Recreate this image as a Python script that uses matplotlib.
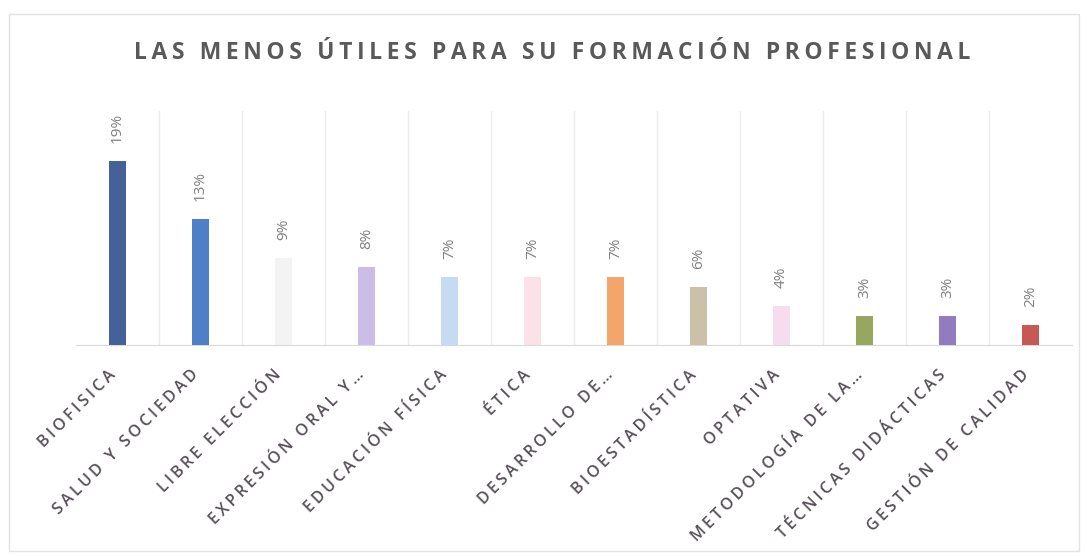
import matplotlib.pyplot as plt
from matplotlib.patches import Rectangle
from matplotlib.transforms import ScaledTranslation

# Data
materias = ['BIOFISICA', 'SALUD Y SOCIEDAD', 'LIBRE ELECCIÓN', 'EXPRESIÓN ORAL Y…',
            'EDUCACIÓN FÍSICA', 'ÉTICA', 'DESARROLLO DE…', 'BIOESTADÍSTICA',
            'OPTATIVA', 'METODOLOGÍA DE LA…', 'TÉCNICAS DIDÁCTICAS', 'GESTIÓN DE CALIDAD']
porcentajes = [19, 13, 9, 8, 7, 7, 7, 6, 4, 3, 3, 2]
colores = ['#45619a', '#4f7fc6', '#f3f3f3', '#cbbde6', '#c6daf3', '#fbe1e8',
           '#f3a56c', '#cbc1a8', '#f6dcef', '#97a75f', '#927cc0', '#c65953']
titulo = 'LAS MENOS ÚTILES PARA SU FORMACIÓN PROFESIONAL'

plt.rcParams['font.family'] = ['Open Sans', 'DejaVu Sans']


def espaciar(texto, sep='\u2009'):
    # imita el espaciado entre letras del original
    return sep.join(texto)


fig = plt.figure(figsize=(10.87, 5.57), dpi=100)
ax = fig.add_axes([0.0699, 0.381, 0.9164, 0.42])

x = range(len(materias))
ax.bar(x, porcentajes, width=0.2, color=colores, zorder=3)

for i, v in enumerate(porcentajes):
    ax.annotate(f'{v}%', (i, v), xytext=(0, 13), textcoords='offset points',
                rotation=90, ha='center', va='bottom', fontsize=11, color='#7f7f7f')

ax.set_xlim(-0.5, len(materias) - 0.5)
ax.set_ylim(0, 24.2)
ax.set_yticks([])
ax.set_xticks(list(x))
ax.set_xticklabels([espaciar(m) for m in materias], rotation=45, ha='right',
                   rotation_mode='anchor', fontsize=11.5, color='#574f58',
                   fontweight='semibold')
ax.tick_params(axis='x', length=0, pad=16)
desplaza = ScaledTranslation(-10 / 100, 0, fig.dpi_scale_trans)
for lbl in ax.get_xticklabels():
    lbl.set_transform(lbl.get_transform() + desplaza)

for b in range(1, len(materias)):
    ax.axvline(b - 0.5, color='#ececec', lw=1, zorder=1)

for s in ['top', 'left', 'right']:
    ax.spines[s].set_visible(False)
ax.spines['bottom'].set_color('#d9d9d9')

fig.text(0.508, 0.905, espaciar(titulo),
         ha='center', va='center', fontsize=16.5, fontweight='bold', color='#595959')

# marco del gráfico
fig.patches.append(Rectangle((0.008, 0.01), 0.985, 0.965, transform=fig.transFigure,
                             fill=False, edgecolor='#e3e3e3', lw=1))

fig.savefig('out.png', dpi=100)
